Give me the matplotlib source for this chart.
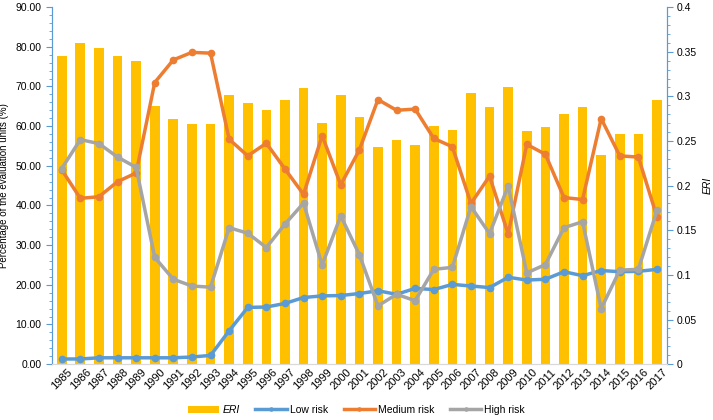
import matplotlib.pyplot as plt
import numpy as np
from matplotlib.ticker import MultipleLocator, FormatStrFormatter, FuncFormatter

plt.rcParams['font.family'] = ['Liberation Sans', 'DejaVu Sans']

years = [str(y) for y in range(1985, 2018)]

eri = [0.345, 0.3595, 0.354, 0.345, 0.340, 0.2895, 0.2745, 0.269, 0.269, 0.301,
       0.2925, 0.2845, 0.296, 0.3095, 0.270, 0.302, 0.277, 0.243, 0.251, 0.246,
       0.2667, 0.2625, 0.3036, 0.2883, 0.3107, 0.2614, 0.2655, 0.280, 0.2883, 0.234,
       0.2577, 0.2577, 0.2958]

low_risk = [1.3, 1.3, 1.6, 1.6, 1.6, 1.6, 1.6, 1.8, 2.2, 8.4,
            14.3, 14.4, 15.3, 16.8, 17.2, 17.3, 17.8, 18.5, 17.6, 19.1,
            18.8, 20.1, 19.7, 19.3, 21.9, 21.2, 21.4, 23.3, 22.3, 23.6,
            23.3, 23.4, 23.9]

medium_risk = [49.0, 41.8, 42.2, 46.0, 48.2, 71.0, 76.7, 78.6, 78.4, 56.7,
               52.5, 55.7, 49.2, 42.8, 57.6, 45.2, 54.0, 66.7, 64.0, 64.3,
               56.9, 54.8, 40.5, 47.4, 32.8, 55.4, 52.9, 42.0, 41.5, 61.9,
               52.5, 52.2, 37.1]

high_risk = [49.3, 56.6, 55.6, 52.2, 49.6, 26.9, 21.4, 19.7, 19.4, 34.4,
             33.0, 29.4, 35.3, 40.6, 25.0, 37.4, 27.6, 14.7, 17.6, 16.0,
             23.9, 24.4, 39.7, 32.9, 44.9, 23.0, 25.1, 34.4, 35.9, 14.0,
             23.7, 23.9, 38.8]

x = np.arange(len(years))
axis_blue = '#5B9BD5'

fig = plt.figure(figsize=(7.13, 4.2), dpi=100)
ax = fig.add_axes([0.073, 0.133, 0.862, 0.85])
ax2 = ax.twinx()

# bars on the right (ERI) axis, lines on the left axis drawn on top
bars = ax2.bar(x, eri, width=0.52, color='#FFC000', label='ERI')
ax.set_zorder(ax2.get_zorder() + 1)
ax.patch.set_visible(False)

l1, = ax.plot(x, low_risk, color='#5B9BD5', lw=2.5, marker='o', ms=4.5, label='Low risk')
l2, = ax.plot(x, medium_risk, color='#ED7D31', lw=2.5, marker='o', ms=4.5, label='Medium risk')
l3, = ax.plot(x, high_risk, color='#A5A5A5', lw=2.5, marker='o', ms=4.5, label='High risk')

ax.set_xlim(-0.52, len(years) - 0.48)
ax.set_ylim(0, 90)
ax2.set_ylim(0, 0.4)

ax.set_xticks(x)
ax.set_xticklabels(years, rotation=45, fontsize=8, ha='center')
ax.tick_params(axis='x', length=0, pad=2)

ax.yaxis.set_major_locator(MultipleLocator(10))
ax.yaxis.set_minor_locator(MultipleLocator(2))
ax.yaxis.set_major_formatter(FormatStrFormatter('%.2f'))
ax.tick_params(axis='y', labelsize=7.5, color=axis_blue, length=4, direction='out')
ax.tick_params(axis='y', which='minor', color=axis_blue, length=2)

ax2.yaxis.set_major_locator(MultipleLocator(0.05))
ax2.yaxis.set_minor_locator(MultipleLocator(0.01))
ax2.yaxis.set_major_formatter(FuncFormatter(lambda v, p: f'{v:g}'))
ax2.tick_params(axis='y', labelsize=7.5, color=axis_blue, length=4)
ax2.tick_params(axis='y', which='minor', color=axis_blue, length=2)

for a in (ax, ax2):
    a.spines['top'].set_visible(False)
    a.spines['left'].set_color(axis_blue)
    a.spines['right'].set_color(axis_blue)
    a.spines['bottom'].set_color('#D9D9D9')

ax.set_ylabel('Percentage of the evaluation units (%)', fontsize=7, labelpad=5)
ax2.set_ylabel('ERI', fontsize=7.5, style='italic', labelpad=4)

leg = fig.legend([bars, l1, l2, l3], ['ERI', 'Low risk', 'Medium risk', 'High risk'],
                 loc='center', bbox_to_anchor=(0.5, 0.024), ncol=4, frameon=False,
                 fontsize=7.5, handlelength=3, handletextpad=0.3, columnspacing=1.5,
                 markerscale=0.5)
leg.get_texts()[0].set_style('italic')

fig.savefig('out.png', dpi=100)
